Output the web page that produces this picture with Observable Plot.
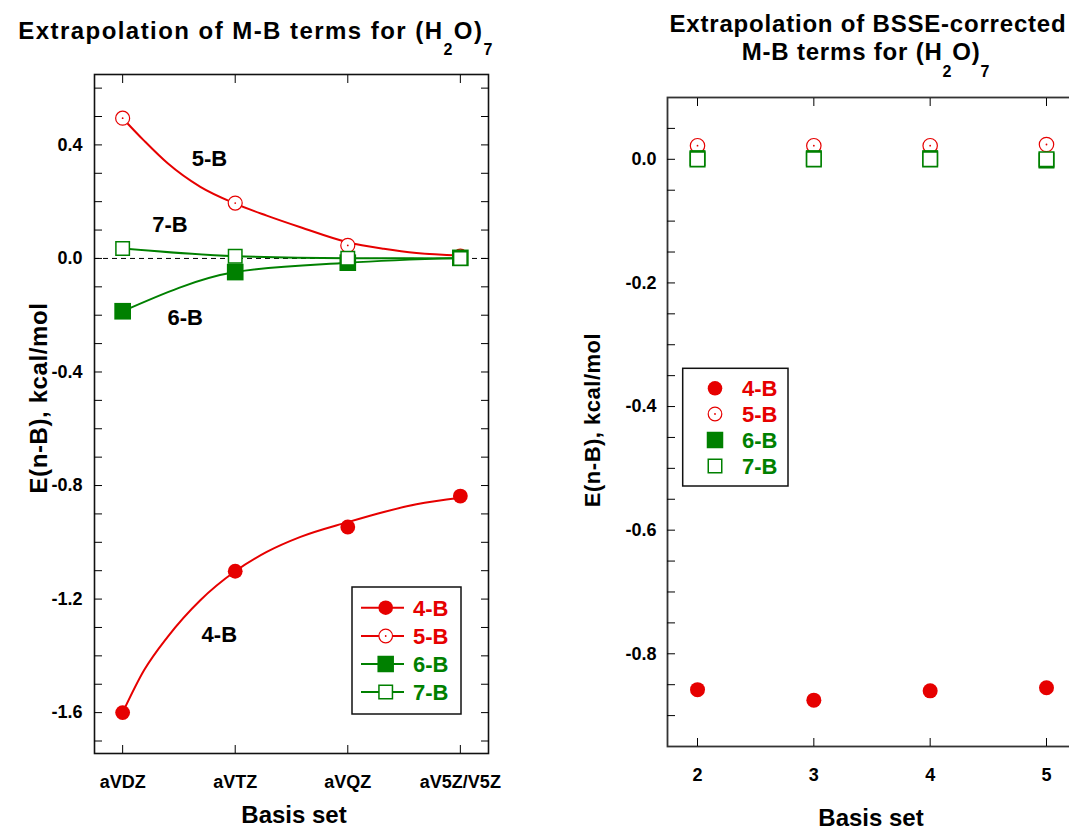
<!DOCTYPE html>
<html><head><meta charset="utf-8">
<script src="https://cdn.jsdelivr.net/npm/d3@7"></script>
<script src="https://cdn.jsdelivr.net/npm/@observablehq/plot@0.6"></script>
<style>
html,body{margin:0;padding:0;background:#fff;}
#wrap{position:relative;width:1069px;height:831px;overflow:hidden;background:#fff;}
#wrap svg{position:absolute;top:0;}
</style></head><body><div id="wrap"></div>
<script>
const FONT = "'Liberation Sans', Arial, Helvetica, sans-serif";
const RED = "#e60000", GREEN = "#008000";

// ---- left panel data (uncorrected) ----
const basisSets = ["aVDZ", "aVTZ", "aVQZ", "aV5Z/V5Z"];
const e4B = [-1.600, -1.102, -0.946, -0.837];
const e5B = [0.494, 0.195, 0.046, 0.008];
const e6B = [-0.186, -0.048, -0.015, 0.002];
const e7B = [0.035, 0.008, 0.001, 0.000];
// extrapolation (fit) curves, x in basis-set index units
const fitX = [0, 0.19, 0.4, 0.69, 1.0, 1.28, 1.58, 2.0, 2.32, 2.61, 3.0];
const fit4B = [-1.600, -1.451, -1.333, -1.204, -1.102, -1.034, -0.981, -0.929, -0.893, -0.866, -0.843];
const fit5B = [0.494, 0.415, 0.335, 0.252, 0.193, 0.151, 0.110, 0.057, 0.034, 0.019, 0.010];
const leftYLabels = [0.4, 0.0, -0.4, -0.8, -1.2, -1.6];
const leftYMinor = [0.6, 0.5, 0.4, 0.3, 0.2, 0.1, 0.0, -0.1, -0.2, -0.3, -0.4, -0.5, -0.6, -0.7, -0.8, -0.9, -1.0, -1.1, -1.2, -1.3, -1.4, -1.5, -1.6, -1.7];
const leftNames = ["5-B", "7-B", "6-B", "4-B"];
const leftNameX = [0.771, 0.420, 0.555, 0.859];
const leftNameY = [0.352, 0.117, -0.211, -1.326];

// ---- right panel data (BSSE-corrected) ----
const cardinal = [2, 3, 4, 5];
const c4B = [-0.858, -0.875, -0.860, -0.855];
const c5B = [0.022, 0.022, 0.022, 0.024];
const c6B = [0.002, 0.002, 0.002, -0.002];
const c7B = [0.000, 0.000, 0.000, 0.000];
const rightYLabels = [0.0, -0.2, -0.4, -0.6, -0.8];
const rightYMinor = [0.05, 0.0, -0.05, -0.1, -0.15, -0.2, -0.25, -0.3, -0.35, -0.4, -0.45, -0.5, -0.55, -0.6, -0.65, -0.7, -0.75, -0.8, -0.85, -0.9];

const seriesNames = ["4-B", "5-B", "6-B", "7-B"];
const seriesColors = [RED, RED, GREEN, GREEN];

const rowsL = ys => ys.map((y, i) => ({x: i, y}));
const rowsF = ys => ys.map((y, i) => ({x: fitX[i], y}));
const rowsR = ys => ys.map((y, i) => ({x: cardinal[i], y}));
const blank = () => "";
const fmt1 = d => d.toFixed(1);

const wrap = document.getElementById("wrap");

// ---------- LEFT ----------
const L4 = rowsL(e4B), L5 = rowsL(e5B), L6 = rowsL(e6B), L7 = rowsL(e7B);
const F4 = rowsF(fit4B), F5 = rowsF(fit5B);
const idx = basisSets.map((_, i) => i);
const left = Plot.plot({
  width: 530, height: 831,
  marginLeft: 94, marginRight: 42, marginTop: 74, marginBottom: 78,
  x: {type: "linear", domain: [-0.25, 3.25], label: null},
  y: {domain: [-1.744, 0.648], label: null},
  style: {fontFamily: FONT, fontWeight: "bold", fontSize: "18px", color: "#000", background: "transparent", overflow: "visible"},
  marks: [
    Plot.ruleY([0], {stroke: "#000", strokeWidth: 1, strokeDasharray: "5,4"}),
    Plot.line(F4, {x: "x", y: "y", stroke: RED, strokeWidth: 2, curve: "monotone-x"}),
    Plot.line(F5, {x: "x", y: "y", stroke: RED, strokeWidth: 2, curve: "monotone-x"}),
    Plot.line(L6, {x: "x", y: "y", stroke: GREEN, strokeWidth: 2, curve: "monotone-x"}),
    Plot.line(L7, {x: "x", y: "y", stroke: GREEN, strokeWidth: 2, curve: "monotone-x"}),
    Plot.dot(L4, {x: "x", y: "y", r: 7.4, fill: RED}),
    Plot.dot(L5, {x: "x", y: "y", r: 7, fill: "white", stroke: RED, strokeWidth: 1.2}),
    Plot.dot(L5, {x: "x", y: "y", r: 0.9, fill: RED}),
    Plot.dot(L6, {x: "x", y: "y", symbol: "square", r: 9.4, fill: GREEN}),
    Plot.dot(L7, {x: "x", y: "y", symbol: "square", r: 7.6, fill: "white", stroke: GREEN, strokeWidth: 1.5}),
    Plot.text(leftNames, {x: (d, i) => leftNameX[i], y: (d, i) => leftNameY[i], text: d => d, fontSize: 22, fontWeight: "bold", fill: "#000"}),
    Plot.frame({stroke: "#111", strokeWidth: 1.6}),
    Plot.axisY(leftYMinor, {anchor: "left", tickSize: -8, tickFormat: blank, label: null}),
    Plot.axisY(leftYMinor, {anchor: "right", tickSize: -8, tickFormat: blank, label: null}),
    Plot.axisY(leftYLabels, {anchor: "left", tickSize: 0, tickPadding: 12, tickFormat: fmt1, fontSize: 18, fontWeight: "bold", label: null}),
    Plot.axisX(idx, {anchor: "top", tickSize: -8, tickFormat: blank, label: null}),
    Plot.axisX(idx, {anchor: "bottom", tickSize: -8, tickFormat: blank, label: null}),
    Plot.axisX(idx, {anchor: "bottom", tickSize: 0, tickPadding: 22, tickFormat: i => basisSets[i], fontSize: 18, fontWeight: "bold", label: null})
  ]
});
left.style.left = "0px";
wrap.appendChild(left);

// ---------- RIGHT ----------
const R4 = rowsR(c4B), R5 = rowsR(c5B), R6 = rowsR(c6B), R7 = rowsR(c7B);
const right = Plot.plot({
  width: 560, height: 831,
  marginLeft: 107, marginRight: 44, marginTop: 97, marginBottom: 85,
  x: {type: "linear", domain: [1.742, 5.258], label: null},
  y: {domain: [-0.95, 0.10], label: null},
  style: {fontFamily: FONT, fontWeight: "bold", fontSize: "18px", color: "#000", background: "transparent", overflow: "visible"},
  marks: [
    Plot.dot(R4, {x: "x", y: "y", r: 7.5, fill: RED}),
    Plot.dot(R5, {x: "x", y: "y", r: 7.2, fill: "white", stroke: RED, strokeWidth: 1.2}),
    Plot.dot(R5, {x: "x", y: "y", r: 0.9, fill: RED}),
    Plot.dot(R6, {x: "x", y: "y", symbol: "square", r: 9.0, fill: GREEN}),
    Plot.dot(R7, {x: "x", y: "y", symbol: "square", r: 8.2, fill: "white", stroke: GREEN, strokeWidth: 1.6}),
    Plot.frame({stroke: "#333", strokeWidth: 1.8}),
    Plot.axisY(rightYMinor, {anchor: "left", tickSize: -8, tickFormat: blank, label: null}),
    Plot.axisY(rightYMinor, {anchor: "right", tickSize: -8, tickFormat: blank, label: null}),
    Plot.axisY(rightYLabels, {anchor: "left", tickSize: 0, tickPadding: 11, tickFormat: fmt1, fontSize: 18, fontWeight: "bold", label: null}),
    Plot.axisX(cardinal, {anchor: "top", tickSize: -8, tickFormat: blank, label: null}),
    Plot.axisX(cardinal, {anchor: "bottom", tickSize: -8, tickFormat: blank, label: null}),
    Plot.axisX(cardinal, {anchor: "bottom", tickSize: 0, tickPadding: 21.5, tickFormat: d => String(d), fontSize: 18, fontWeight: "bold", label: null})
  ]
});
right.style.left = "560px";
wrap.appendChild(right);

// ---------- overlay: titles, axis labels, legends ----------
const ov = d3.select(wrap).append("svg")
  .attr("width", 1069).attr("height", 831)
  .style("left", "0px").style("pointer-events", "none")
  .style("font-family", FONT).style("font-weight", "bold");

function titleWithSub(g, x, y, parts, size, sub, shift, ls) {
  const t = g.append("text").attr("x", x).attr("y", y).attr("text-anchor", "middle")
    .attr("font-size", size).attr("letter-spacing", ls).attr("fill", "#000");
  let down = false;
  for (const p of parts) {
    const ts = t.append("tspan").text(p.t);
    if (p.sub && !down) { ts.attr("dy", shift).attr("font-size", sub); down = true; }
    else if (!p.sub && down) { ts.attr("dy", -shift); down = false; }
  }
}
titleWithSub(ov, 256, 39, [{t: "Extrapolation of M-B terms for (H"}, {t: "2", sub: true}, {t: "O)"}, {t: "7", sub: true}], 24, 16, 16, 1.45);
ov.append("text").attr("x", 868).attr("y", 32).attr("text-anchor", "middle").attr("font-size", 24)
  .attr("letter-spacing", 0.8).text("Extrapolation of BSSE-corrected");
titleWithSub(ov, 866, 60, [{t: "M-B terms for (H"}, {t: "2", sub: true}, {t: "O)"}, {t: "7", sub: true}], 24, 16, 17, 0.8);

function yLabel(cx, cy, size, ls) {
  ov.append("text").attr("transform", `translate(${cx},${cy}) rotate(-90)`).attr("text-anchor", "middle")
    .attr("dy", "0.36em").attr("font-size", size).attr("letter-spacing", ls).text("E(n-B), kcal/mol");
}
yLabel(38, 398, 24, 0.6);
yLabel(592.5, 420, 22, 0.5);

ov.append("text").attr("x", 294).attr("y", 823).attr("text-anchor", "middle").attr("font-size", 24).text("Basis set");
ov.append("text").attr("x", 871).attr("y", 826).attr("text-anchor", "middle").attr("font-size", 24).text("Basis set");

function symbol(g, k, cx, cy) {
  const c = seriesColors[k];
  if (k === 0) g.append("circle").attr("cx", cx).attr("cy", cy).attr("r", 7.3).attr("fill", c);
  if (k === 1) {
    g.append("circle").attr("cx", cx).attr("cy", cy).attr("r", 6.8).attr("fill", "white").attr("stroke", c).attr("stroke-width", 1.2);
    g.append("circle").attr("cx", cx).attr("cy", cy).attr("r", 0.9).attr("fill", c);
  }
  if (k === 2) { const s = 16.5; g.append("rect").attr("x", cx - s / 2).attr("y", cy - s / 2).attr("width", s).attr("height", s).attr("fill", c); }
  if (k === 3) { const s = 13.5; g.append("rect").attr("x", cx - s / 2).attr("y", cy - s / 2).attr("width", s).attr("height", s).attr("fill", "white").attr("stroke", c).attr("stroke-width", 1.5); }
}

// left legend (with lines)
const lg = ov.append("g");
lg.append("rect").attr("x", 352).attr("y", 587).attr("width", 109).attr("height", 127).attr("fill", "white").attr("stroke", "#111").attr("stroke-width", 1.5);
const lgY = [607.7, 636, 664, 692];
seriesNames.forEach((n, k) => {
  lg.append("line").attr("x1", 361).attr("x2", 404).attr("y1", lgY[k]).attr("y2", lgY[k]).attr("stroke", seriesColors[k]).attr("stroke-width", 2);
  symbol(lg, k, 385.7, lgY[k]);
  lg.append("text").attr("x", 413).attr("y", lgY[k]).attr("dy", "0.36em").attr("font-size", 22).attr("fill", seriesColors[k]).text(n);
});

// right legend (symbols only)
const rg = ov.append("g");
rg.append("rect").attr("x", 682.7).attr("y", 368.3).attr("width", 105.3).attr("height", 117.7).attr("fill", "white").attr("stroke", "#111").attr("stroke-width", 1.5);
const rgY = [388.3, 414, 440, 466];
seriesNames.forEach((n, k) => {
  symbol(rg, k, 715, rgY[k]);
  rg.append("text").attr("x", 742).attr("y", rgY[k]).attr("dy", "0.36em").attr("font-size", 22).attr("fill", seriesColors[k]).text(n);
});
</script></body></html>
